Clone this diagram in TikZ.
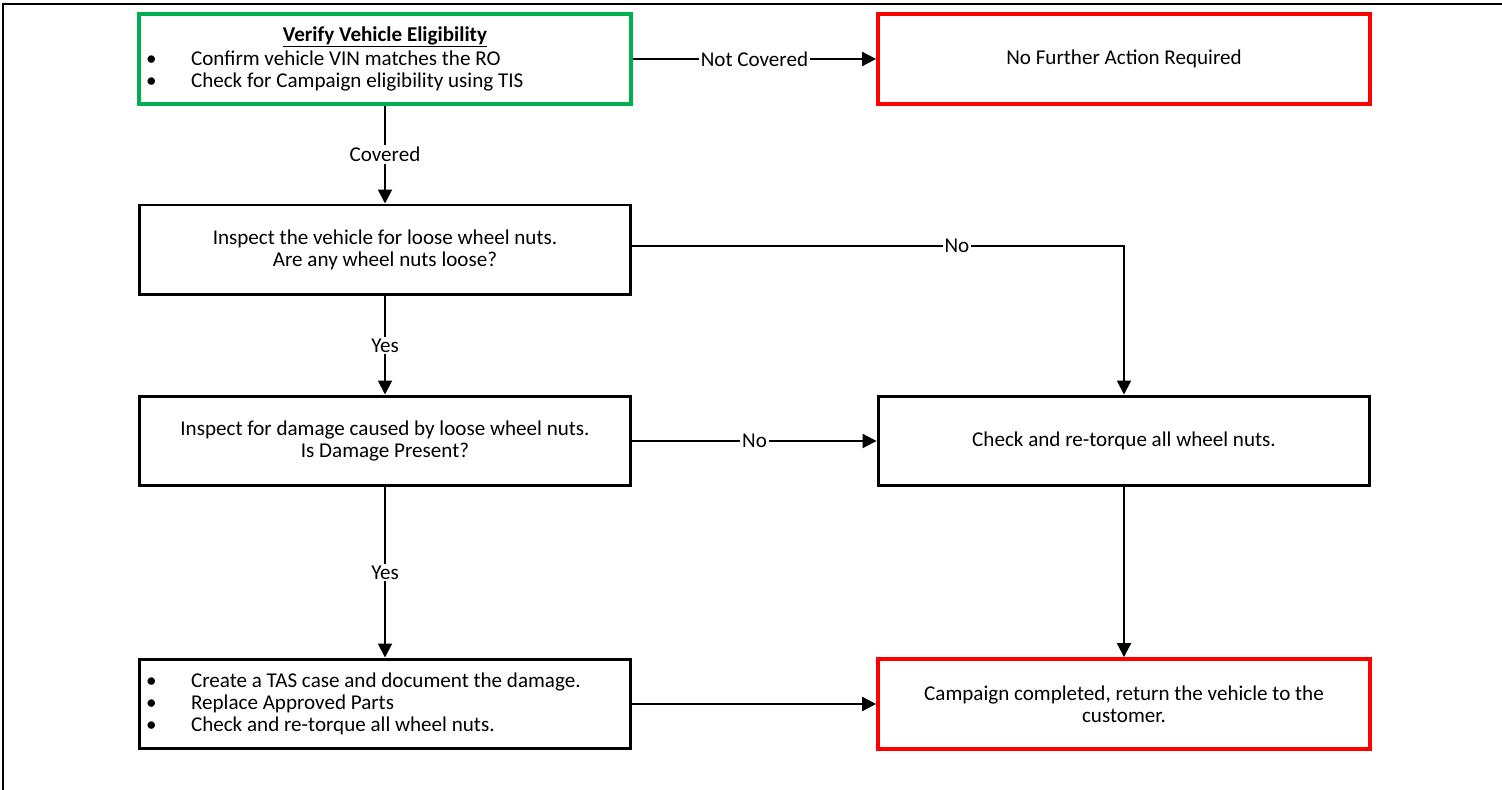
\documentclass[tikz,border=0pt]{standalone}
\usepackage{fontspec}
\setmainfont{Carlito}
\usepackage{xcolor}
\usetikzlibrary{arrows.meta, positioning}
\definecolor{okgreen}{RGB}{0,176,80}
\newcommand{\bitem}[1]{\makebox[0.9cm][l]{\textbullet}#1}
\newcommand{\headline}[1]{\underline{\raisebox{0pt}[\height][1.0pt]{#1}}}

\begin{document}
\begin{tikzpicture}[
  x=0.02cm, y=-0.02cm,
  box/.style={draw, line width=1.7pt, minimum width=9.84cm, minimum height=1.8cm,
              font=\fontsize{12}{12.4}\selectfont, align=center, inner sep=0pt},
  listbox/.style={box, align=flush left, text width=9.56cm, inner xsep=0.14cm},
  startbox/.style={listbox, draw=okgreen, line width=2pt},
  endbox/.style={box, draw=red, line width=2.2pt},
  arr/.style={-{Triangle[length=0.28cm, width=0.28cm]}, line width=1.1pt},
  lbl/.style={fill=white, inner sep=1pt, font=\fontsize{12}{12.4}\selectfont},
]
\useasboundingbox (0,0) rectangle (1502,790);
% frame
\draw[line width=0.8pt] (3,790) -- (3,4) -- (1502,4);

\node[startbox] (verify)  at (385,59)
  {\makebox[9.56cm]{\textbf{\headline{Verify Vehicle Eligibility}}}\\[1pt]
   \bitem{Confirm vehicle VIN matches the RO}\\
   \bitem{Check for Campaign eligibility using TIS}};
\node[endbox]   (noaction) at (1124,59)  {No Further Action Required};
\node[box]      (inspect)  at (385,250)
  {Inspect the vehicle for loose wheel nuts.\\ Are any wheel nuts loose?};
\node[box]      (damage)   at (385,441)
  {Inspect for damage caused by loose wheel nuts.\\ Is Damage Present?};
\node[box]      (retorque) at (1124,441) {Check and re-torque all wheel nuts.};
\node[listbox]  (tascase)  at (385,704)
  {\bitem{Create a TAS case and document the damage.}\\
   \bitem{Replace Approved Parts}\\
   \bitem{Check and re-torque all wheel nuts.}};
\node[endbox]   (done)     at (1124,704)
  {Campaign completed, return the vehicle to the\\ customer.};

\draw[arr] (verify.east |- noaction) -- node[lbl] {Not Covered} (noaction);
\draw[arr] (verify)   -- node[lbl] {Covered} (inspect);
\draw[arr] (inspect.east |- 0,246) -| node[lbl, pos=0.33] {No} (retorque);
\draw[arr] (inspect)  -- node[lbl] {Yes} (damage);
\draw[arr] (damage)   -- node[lbl] {No} (retorque);
\draw[arr] (damage)   -- node[lbl] {Yes} (tascase);
\draw[arr] (tascase)  -- (done);
\draw[arr] (retorque) -- (done);
\end{tikzpicture}
\end{document}
